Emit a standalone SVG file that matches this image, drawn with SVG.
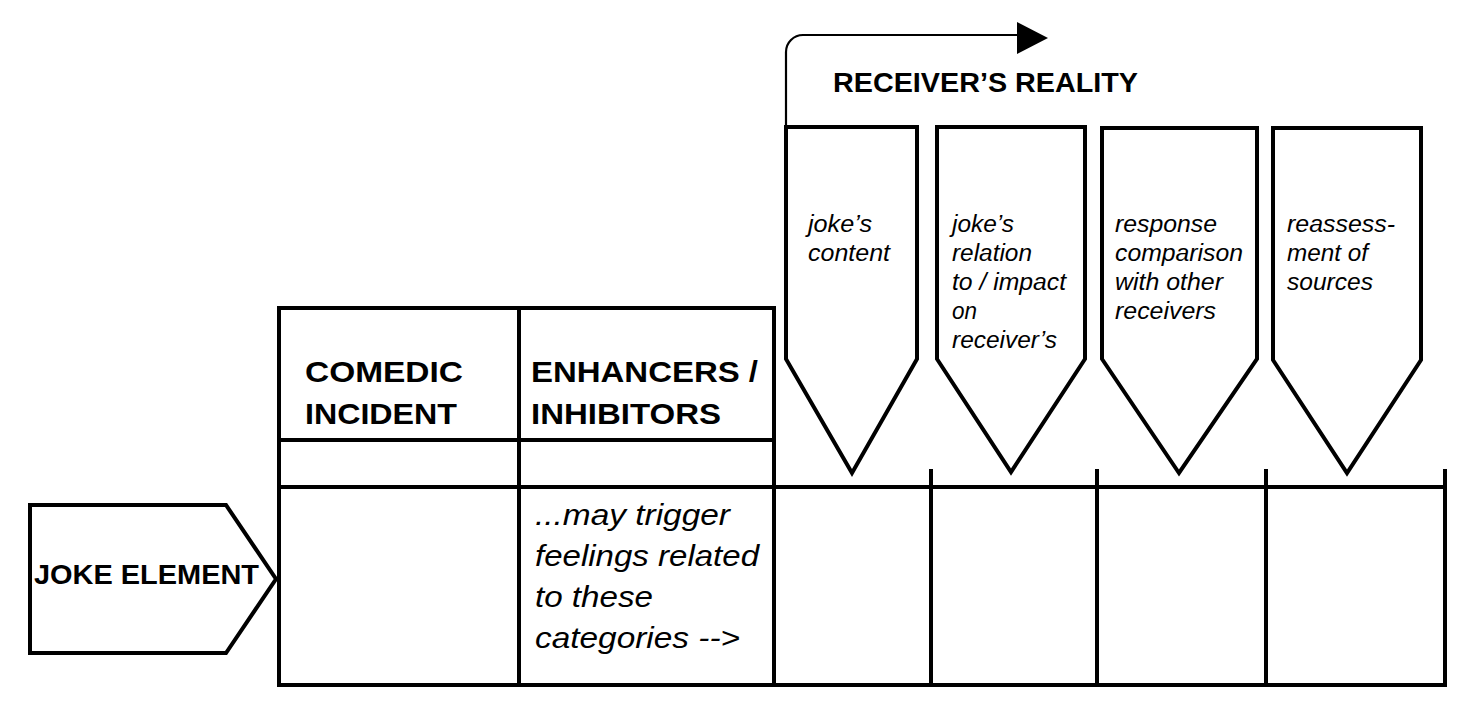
<svg xmlns="http://www.w3.org/2000/svg" width="1467" height="711" viewBox="0 0 1467 711">
<style>
.shape{fill:#fff;stroke:#000;stroke-width:4;stroke-linejoin:miter}
.line{fill:none;stroke:#000;stroke-width:4}
.conn{fill:none;stroke:#000;stroke-width:2.2}
.bold{font-family:"Liberation Sans",Arial,sans-serif;font-weight:bold;fill:#000}
.ital{font-family:"Liberation Sans",Arial,sans-serif;font-style:italic;fill:#000}
.hdr{font-size:30px}
.pen{font-size:23.5px}
.note{font-size:30px}
</style>
<defs>
<marker id="head" viewBox="0 0 31 32" markerWidth="31" markerHeight="32" refX="0" refY="13" markerUnits="userSpaceOnUse" orient="auto">
<path d="M0,0 L31,16 L0,32 Z" fill="#000"/>
</marker>
</defs>
<rect width="1467" height="711" fill="#fff"/>

<g id="table">
<line class="line" x1="279" y1="308" x2="774" y2="308"/>
<line class="line" x1="279" y1="440" x2="774" y2="440"/>
<line class="line" x1="279" y1="487" x2="1445" y2="487"/>
<line class="line" x1="277" y1="685" x2="1447" y2="685"/>
<line class="line" x1="279" y1="306" x2="279" y2="687"/>
<line class="line" x1="519" y1="308" x2="519" y2="685"/>
<line class="line" x1="774" y1="306" x2="774" y2="687"/>
<line class="line" x1="931" y1="469" x2="931" y2="685"/>
<line class="line" x1="1097" y1="469" x2="1097" y2="685"/>
<line class="line" x1="1266" y1="469" x2="1266" y2="685"/>
<line class="line" x1="1445" y1="469" x2="1445" y2="687"/>
<text class="bold hdr" x="305" y="382" textLength="158" lengthAdjust="spacingAndGlyphs">COMEDIC</text>
<text class="bold hdr" x="305" y="424" textLength="152" lengthAdjust="spacingAndGlyphs">INCIDENT</text>
<text class="bold hdr" x="531" y="382" textLength="227" lengthAdjust="spacingAndGlyphs">ENHANCERS /</text>
<text class="bold hdr" x="531" y="424" textLength="190" lengthAdjust="spacingAndGlyphs">INHIBITORS</text>
<text class="ital note" x="535" y="525" textLength="195" lengthAdjust="spacingAndGlyphs">...may trigger</text>
<text class="ital note" x="535" y="566" textLength="224" lengthAdjust="spacingAndGlyphs">feelings related</text>
<text class="ital note" x="535" y="607" textLength="118" lengthAdjust="spacingAndGlyphs">to these</text>
<text class="ital note" x="535" y="648" textLength="205" lengthAdjust="spacingAndGlyphs">categories --&gt;</text>
</g>

<g id="joke-element">
<polygon class="shape" points="30,505 226,505 276,579 226,653 30,653"/>
<text class="bold" font-size="28" x="34" y="584" textLength="225" lengthAdjust="spacingAndGlyphs">JOKE ELEMENT</text>
</g>

<g id="receivers-reality-label">
<text class="bold" font-size="27" x="833" y="92" textLength="305" lengthAdjust="spacingAndGlyphs">RECEIVER’S REALITY</text>
</g>

<g id="jokes-content">
<polygon class="shape" points="786,127 917,127 917,359 852,473 786,359"/>
<text class="ital pen" x="808" y="232" textLength="64" lengthAdjust="spacingAndGlyphs">joke’s</text>
<text class="ital pen" x="808" y="261" textLength="82" lengthAdjust="spacingAndGlyphs">content</text>
</g>

<g id="jokes-relation">
<polygon class="shape" points="937,127 1085,127 1085,359 1011,472 937,359"/>
<text class="ital pen" x="952" y="232" textLength="62" lengthAdjust="spacingAndGlyphs">joke’s</text>
<text class="ital pen" x="952" y="261" textLength="80" lengthAdjust="spacingAndGlyphs">relation</text>
<text class="ital pen" x="952" y="290" textLength="114" lengthAdjust="spacingAndGlyphs">to / impact</text>
<text class="ital pen" x="952" y="319" textLength="25" lengthAdjust="spacingAndGlyphs">on</text>
<text class="ital pen" x="952" y="348" textLength="105" lengthAdjust="spacingAndGlyphs">receiver’s</text>
</g>

<g id="response-comparison">
<polygon class="shape" points="1102,128 1257,128 1257,359 1179,473 1102,359"/>
<text class="ital pen" x="1115" y="232" textLength="102" lengthAdjust="spacingAndGlyphs">response</text>
<text class="ital pen" x="1115" y="261" textLength="128" lengthAdjust="spacingAndGlyphs">comparison</text>
<text class="ital pen" x="1115" y="290" textLength="108" lengthAdjust="spacingAndGlyphs">with other</text>
<text class="ital pen" x="1115" y="319" textLength="101" lengthAdjust="spacingAndGlyphs">receivers</text>
</g>

<g id="reassessment">
<polygon class="shape" points="1273,128 1421,128 1421,360 1347,473 1273,360"/>
<text class="ital pen" x="1287" y="232" textLength="108" lengthAdjust="spacingAndGlyphs">reassess-</text>
<text class="ital pen" x="1287" y="261" textLength="81" lengthAdjust="spacingAndGlyphs">ment of</text>
<text class="ital pen" x="1287" y="290" textLength="86" lengthAdjust="spacingAndGlyphs">sources</text>
</g>

<g id="connectors">
<path class="conn" d="M786,127 V52 A17,17 0 0 1 803,35 H1017" marker-end="url(#head)"/>
</g>
</svg>
